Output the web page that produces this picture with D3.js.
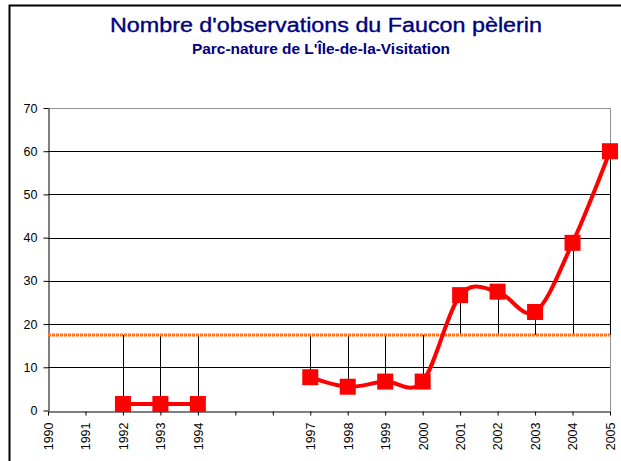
<!DOCTYPE html>
<html>
<head>
<meta charset="utf-8">
<script src="https://cdn.jsdelivr.net/npm/d3@7"></script>
<style>
  body { margin: 0; background: #fff; }
  svg { display: block; font-family: Arial, "Liberation Sans", sans-serif; }
</style>
</head>
<body>
<div id="chart"></div>
<script>
const years = [1990, 1991, 1992, 1993, 1994, 1995, 1996, 1997, 1998, 1999, 2000, 2001, 2002, 2003, 2004, 2005];
const yearLabels = ["1990", "1991", "1992", "1993", "1994", "", "", "1997", "1998", "1999", "2000", "2001", "2002", "2003", "2004", "2005"];
const observations = [null, null, 1.5, 1.5, 1.5, null, null, 7.7, 5.5, 6.7, 6.7, 26.7, 27.5, 22.8, 38.8, 60];
const meanValue = 17.5;
const yTicks = [0, 10, 20, 30, 40, 50, 60, 70];

const width = 621, height = 461;
const margin = { top: 108, right: 11, bottom: 50, left: 48 };

const svg = d3.select("#chart").append("svg")
  .attr("width", width)
  .attr("height", height);

// outer frame
svg.append("rect")
  .attr("x", 9.5).attr("y", 5.5)
  .attr("width", width + 20).attr("height", height + 20)
  .attr("fill", "none").attr("stroke", "#000").attr("stroke-width", 2);

svg.append("text")
  .attr("x", 326).attr("y", 32)
  .attr("text-anchor", "middle")
  .attr("fill", "#000080")
  .attr("stroke", "#000080").attr("stroke-width", 0.35)
  .attr("font-size", 20)
  .attr("textLength", 432)
  .attr("lengthAdjust", "spacingAndGlyphs")
  .text("Nombre d'observations du Faucon pèlerin");

svg.append("text")
  .attr("x", 321).attr("y", 54)
  .attr("text-anchor", "middle")
  .attr("fill", "#000080")
  .attr("font-size", 14)
  .attr("font-weight", "bold")
  .attr("textLength", 258)
  .attr("lengthAdjust", "spacingAndGlyphs")
  .text("Parc-nature de L'Île-de-la-Visitation");

const x = d3.scalePoint()
  .domain(years)
  .range([margin.left, width - margin.right]);

const y = d3.scaleLinear()
  .domain([0, 70])
  .range([height - margin.bottom - 0.5, margin.top]);

const g = svg.append("g");

// gridlines
g.selectAll("line.grid")
  .data(yTicks.slice(1, -1))
  .join("line")
  .attr("class", "grid")
  .attr("x1", x(1990)).attr("x2", x(2005))
  .attr("y1", d => Math.round(y(d)) + 0.5).attr("y2", d => Math.round(y(d)) + 0.5)
  .attr("stroke", "#000");

// plot area border (top and right)
g.append("path")
  .attr("d", `M${x(1990)},${Math.round(y(70)) + 0.5}H${Math.round(x(2005)) + 0.5}V${Math.round(y(0))}`)
  .attr("fill", "none")
  .attr("stroke", "#909090");

// y axis
const yAxis = g.append("g")
  .attr("transform", `translate(${Math.round(x(1990)) + 0.5},0)`)
  .call(d3.axisLeft(y).tickValues(yTicks).tickSize(5).tickPadding(6).tickSizeOuter(0));
yAxis.select(".domain").attr("stroke", "#000");
yAxis.selectAll("text").attr("font-size", 12.5).attr("font-family", "Arial, 'Liberation Sans', sans-serif").attr("fill", "#000");

// x axis
const xAxis = g.append("g")
  .attr("transform", `translate(0,${Math.round(y(0)) + 0.5})`)
  .call(d3.axisBottom(x).tickFormat((d, i) => yearLabels[i]).tickSize(4).tickSizeOuter(0));
xAxis.select(".domain").attr("stroke", "#000");
xAxis.selectAll("text")
  .attr("font-size", 12.5)
  .attr("font-family", "Arial, 'Liberation Sans', sans-serif")
  .attr("fill", "#000")
  .attr("transform", "rotate(-90)")
  .attr("text-anchor", "end")
  .attr("x", -11)
  .attr("y", 0)
  .attr("dy", "0.35em");

const points = years.map((yr, i) => ({ year: yr, value: observations[i] }))
  .filter(d => d.value != null);

// drop lines between mean and values
g.selectAll("line.drop")
  .data(points)
  .join("line")
  .attr("class", "drop")
  .attr("x1", d => Math.round(x(d.year)) + 0.5).attr("x2", d => Math.round(x(d.year)) + 0.5)
  .attr("y1", y(meanValue)).attr("y2", d => y(d.value))
  .attr("stroke", "#000");

// mean line
g.append("line")
  .attr("x1", x(1990)).attr("x2", x(2005))
  .attr("y1", y(meanValue)).attr("y2", y(meanValue))
  .attr("stroke", "#ff6a10").attr("stroke-width", 3)
  .attr("stroke-dasharray", "3,1");
g.append("line")
  .attr("x1", x(1990)).attr("x2", x(2005))
  .attr("y1", y(meanValue)).attr("y2", y(meanValue))
  .attr("stroke", "#ffd2b0").attr("stroke-width", 1)
  .attr("stroke-dasharray", "1,3")
  .attr("stroke-dashoffset", -1);

const line = d3.line()
  .defined((d, i) => observations[i] != null)
  .x(d => x(d))
  .y((d, i) => y(observations[i]))
  .curve(d3.curveCardinal.tension(0));

g.append("path")
  .datum(years)
  .attr("d", line)
  .attr("fill", "none")
  .attr("stroke", "#ff0000")
  .attr("stroke-width", 4)
  .attr("stroke-linejoin", "round");

const s = 16;
g.selectAll("rect.marker")
  .data(points)
  .join("rect")
  .attr("class", "marker")
  .attr("x", d => x(d.year) - s / 2)
  .attr("y", d => y(d.value) - s / 2)
  .attr("width", s).attr("height", s)
  .attr("fill", "#ff0000");
</script>
</body>
</html>
